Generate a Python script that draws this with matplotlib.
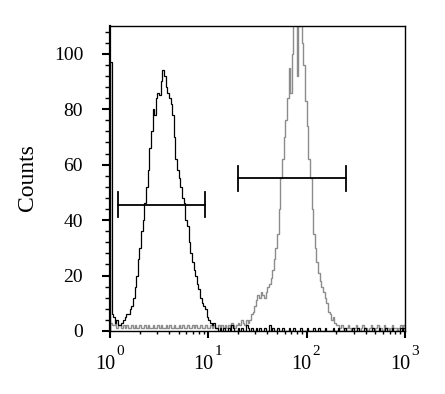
import numpy as np
import matplotlib
matplotlib.use('Agg')
from matplotlib import pyplot as plt
from matplotlib.ticker import LogLocator, MultipleLocator, NullFormatter

plt.rcParams['font.family'] = ['Liberation Serif', 'DejaVu Serif']

# channel edges: 60 channels per decade, 10^0 .. 10^3
n_per_decade = 60
edges = 10 ** (np.arange(0, 181) / n_per_decade)

# control histogram (black)
black_counts = [97, 6, 5, 3, 4, 2, 2, 3, 4, 5,
                6, 6, 8, 9, 12, 16, 20, 26, 30, 36,
                40, 46, 52, 58, 66, 72, 80, 78, 84, 86,
                85, 90, 94, 92, 88, 86, 84, 82, 78, 70,
                62, 58, 55, 52, 48, 46, 40, 38, 32, 28,
                25, 22, 20, 17, 15, 12, 10, 9, 8, 5,
                4, 3, 2, 3, 1, 1, 0, 1, 0, 1,
                0, 0, 1, 0, 2, 1, 0, 0, 1, 0,
                1, 0, 0, 2, 1, 0, 1, 0, 0, 1,
                0, 1, 0, 0, 1, 0, 0, 2, 0, 1,
                0, 0, 1, 0, 0, 1, 0, 0, 0, 1,
                0, 0, 1, 0, 0, 0, 1, 0, 0, 0,
                1, 0, 0, 0, 1, 0, 0, 1, 0, 0,
                0, 1, 0, 0, 0, 0, 1, 0, 0, 1,
                0, 0, 0, 1, 0, 0, 0, 0, 1, 0,
                0, 1, 0, 0, 0, 1, 0, 0, 0, 0,
                1, 0, 0, 0, 1, 0, 0, 0, 1, 0,
                0, 0, 1, 0, 0, 0, 0, 1, 0, 1]

# stained histogram (grey)
grey_counts = [3, 2, 2, 3, 1, 2, 2, 1, 2, 1,
               2, 1, 1, 2, 1, 2, 1, 1, 2, 1,
               1, 2, 1, 2, 1, 1, 2, 1, 1, 2,
               1, 2, 1, 1, 2, 1, 2, 1, 1, 2,
               1, 1, 2, 1, 2, 1, 1, 2, 1, 1,
               2, 1, 2, 1, 1, 2, 1, 1, 2, 1,
               1, 2, 1, 2, 1, 1, 2, 1, 2, 1,
               2, 1, 2, 1, 3, 2, 1, 2, 3, 2,
               4, 3, 2, 4, 3, 4, 6, 7, 9, 11,
               13, 12, 14, 13, 12, 14, 16, 17, 19, 22,
               26, 30, 35, 44, 55, 62, 70, 76, 84, 95,
               86, 100, 112, 115, 92, 110, 118, 104, 96, 83,
               74, 62, 55, 44, 35, 30, 25, 21, 18, 16,
               14, 12, 10, 7, 6, 4, 5, 3, 2, 2,
               1, 2, 1, 0, 1, 2, 1, 0, 1, 1,
               2, 1, 0, 1, 2, 1, 1, 0, 1, 2,
               1, 0, 1, 2, 1, 1, 0, 2, 1, 1,
               0, 1, 2, 1, 1, 0, 1, 2, 1, 2]

# gates: (low, high, level)
black_gate = (1.2, 9.25, 45.5)
grey_gate = (20, 251, 55)

decades = [1, 10, 100, 1000]
exponents = ['0', '1', '2', '3']

fig = plt.figure(figsize=(4.45, 3.94), dpi=100)
ax = fig.add_axes([0.247, 0.160, 0.663, 0.774])

ax.stairs(grey_counts, edges, color='#8c8c8c', linewidth=1.0)
ax.stairs(black_counts, edges, color='black', linewidth=0.9)

for lo, hi, lev in [black_gate, grey_gate]:
    ax.plot([lo, hi], [lev, lev], color='black', linewidth=1.3)
    ax.plot([lo, lo], [lev - 4.5, lev + 4.5], color='black', linewidth=1.3)
    ax.plot([hi, hi], [lev - 4.5, lev + 4.5], color='black', linewidth=1.3)

ax.set_xscale('log')
ax.set_xlim(1, 1000)
ax.set_ylim(0, 110)
ax.set_xticks(decades)
ax.set_xticklabels([])
ax.xaxis.set_minor_locator(LogLocator(base=10, subs=np.arange(2, 10)))
ax.xaxis.set_minor_formatter(NullFormatter())
ax.set_yticks([0, 20, 40, 60, 80, 100])
ax.yaxis.set_minor_locator(MultipleLocator(4))

ax.tick_params(axis='y', which='major', direction='out', length=5.8, width=1.5,
               labelsize=14, pad=13.5)
ax.tick_params(axis='y', which='minor', direction='out', length=3.6, width=1.0)
ax.tick_params(axis='x', which='major', direction='out', length=5, width=1.5)
ax.tick_params(axis='x', which='minor', direction='out', length=2.5, width=1.0)

# decade labels drawn as base plus raised exponent
for d, e in zip(decades, exponents):
    ax.annotate('10', xy=(d, 0), xycoords=('data', 'axes fraction'),
                xytext=(5, -38), textcoords='offset pixels',
                ha='right', va='baseline', fontsize=14.5, annotation_clip=False)
    ax.annotate(e, xy=(d, 0), xycoords=('data', 'axes fraction'),
                xytext=(6, -24), textcoords='offset pixels',
                ha='left', va='baseline', fontsize=11, annotation_clip=False)

for s in ax.spines.values():
    s.set_linewidth(1.0)
ax.spines['left'].set_linewidth(1.6)

fig.text(28 / 445, 1 - 178 / 394, 'Counts', rotation=90, fontsize=17,
         ha='center', va='center')

fig.savefig('out.png', dpi=100)
